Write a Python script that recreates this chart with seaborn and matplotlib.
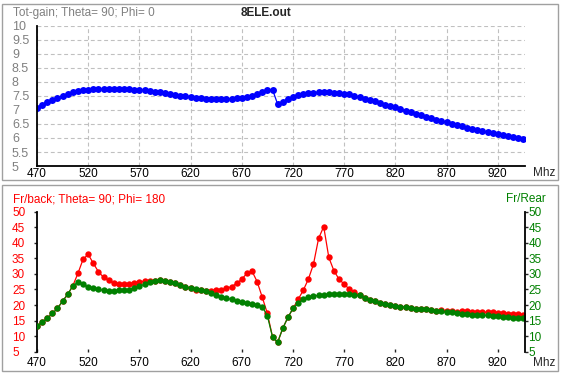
import pandas as pd
import matplotlib
matplotlib.use("Agg")
import matplotlib.pyplot as plt
from matplotlib.patches import Rectangle
import seaborn as sns

# sweep frequencies (MHz), 5 MHz steps
freq = list(range(470, 950, 5))

# Tot-gain; Theta=90; Phi=0
gain = [7.07, 7.19, 7.29, 7.37, 7.44, 7.51, 7.57, 7.63, 7.68, 7.71,
        7.73, 7.75, 7.75, 7.75, 7.75, 7.75, 7.75, 7.75, 7.75, 7.72,
        7.71, 7.71, 7.68, 7.65, 7.63, 7.60, 7.57, 7.54, 7.51, 7.50,
        7.47, 7.44, 7.43, 7.40, 7.39, 7.39, 7.39, 7.39, 7.40, 7.42,
        7.44, 7.46, 7.51, 7.57, 7.64, 7.73, 7.73, 7.21, 7.29, 7.39,
        7.46, 7.55, 7.57, 7.60, 7.62, 7.63, 7.64, 7.63, 7.62, 7.59,
        7.58, 7.56, 7.51, 7.45, 7.39, 7.36, 7.32, 7.26, 7.19, 7.14,
        7.11, 7.04, 6.96, 6.93, 6.87, 6.82, 6.76, 6.73, 6.64, 6.61,
        6.57, 6.51, 6.46, 6.44, 6.37, 6.32, 6.27, 6.24, 6.20, 6.17,
        6.13, 6.12, 6.08, 6.05, 6.00, 5.96]

# Fr/back; Theta=90; Phi=180
fr_back = [13.2, 14.5, 15.7, 17.3, 18.9, 21.3, 23.4, 26.2, 30.2, 34.7,
           36.3, 33.4, 30.7, 28.9, 27.9, 27.0, 26.8, 26.8, 26.8, 27.2,
           27.4, 27.7, 27.7, 27.8, 27.9, 27.6, 27.3, 27.0, 26.3, 25.9,
           25.4, 24.9, 24.7, 24.4, 24.5, 24.8, 24.7, 25.4, 25.9, 27.0,
           28.3, 30.2, 30.9, 27.5, 22.5, 17.3, 9.8, 8.0, 12.5, 16.0,
           18.9, 21.8, 24.7, 28.3, 33.1, 41.4, 45.2, 35.3, 31.0, 28.3,
           26.7, 25.1, 24.2, 23.1, 22.2, 21.6, 21.3, 20.6, 20.3, 20.0,
           19.7, 19.5, 19.4, 18.9, 18.6, 18.7, 18.7, 18.3, 18.2, 18.4,
           18.2, 18.0, 17.9, 18.0, 18.0, 17.7, 17.7, 17.7, 17.7, 17.8,
           17.4, 17.4, 17.2, 17.1, 17.0, 16.8]

# Fr/Rear
fr_rear = [13.2, 14.5, 15.7, 17.3, 18.9, 21.3, 23.4, 26.2, 27.3, 26.7,
           25.7, 25.4, 25.1, 24.7, 24.5, 24.4, 24.7, 24.7, 24.9, 25.6,
           26.0, 26.7, 27.3, 27.8, 27.9, 27.6, 27.3, 27.0, 26.3, 25.9,
           25.4, 25.0, 24.7, 24.4, 23.8, 23.1, 22.6, 22.2, 21.8, 21.4,
           20.9, 20.6, 20.2, 19.9, 19.5, 16.5, 9.8, 8.0, 12.5, 16.0,
           18.9, 20.6, 21.8, 22.5, 22.9, 23.1, 23.2, 23.4, 23.4, 23.4,
           23.4, 23.4, 23.1, 23.1, 22.2, 21.6, 21.3, 20.6, 20.3, 20.0,
           19.7, 19.5, 19.4, 18.9, 18.6, 18.7, 18.7, 18.3, 18.2, 18.0,
           17.7, 17.7, 17.4, 17.2, 17.0, 16.9, 16.8, 16.7, 16.7, 16.4,
           16.4, 16.2, 16.0, 15.9, 15.9, 15.8]

xticks = list(range(470, 921, 50))
gain_ticks = [5, 5.5, 6, 6.5, 7, 7.5, 8, 8.5, 9, 9.5, 10]
gain_labels = ["5", "5.5", "6", "6.5", "7", "7.5", "8", "8.5", "9", "9.5", "10"]
fb_ticks = list(range(5, 51, 5))

df = pd.DataFrame({"freq": freq, "gain": gain, "fb": fr_back, "fr": fr_rear})

sns.set_style("white")
plt.rcParams["font.family"] = ["Liberation Sans", "DejaVu Sans"]
plt.rcParams["font.size"] = 8

W, H = 563, 373
fig = plt.figure(figsize=(W / 100, H / 100), dpi=100)
fig.patch.set_facecolor("white")


def box(x, y, w, h):
    # pixel box (top-left origin) -> figure fraction rect
    return [x / W, 1 - (y + h) / H, w / W, h / H]


# panel frames
for (x0, y0, x1, y1) in [(2, 4, 558, 180), (2, 185, 558, 371)]:
    fig.add_artist(Rectangle((x0 / W, 1 - y1 / H), (x1 - x0) / W, (y1 - y0) / H,
                             transform=fig.transFigure, fill=False,
                             edgecolor="#a0a0a0", linewidth=1.0))

XMAX = 946.6

# ---- top: gain ----
ax1 = fig.add_axes(box(37, 26, 488, 140))
sns.lineplot(data=df, x="freq", y="gain", ax=ax1, color="#0000ff", marker="o",
             markersize=5.0, markeredgewidth=0, linewidth=0.9)
ax1.set_xlim(470, XMAX)
ax1.set_ylim(5, 10)
ax1.set_xticks(xticks)
ax1.set_yticks(gain_ticks)
ax1.set_yticklabels(gain_labels)
ax1.grid(True, color="#c0c0c0", linestyle=(0, (3.5, 2.5)), linewidth=0.8)
ax1.set_axisbelow(True)
for s in ["top", "right"]:
    ax1.spines[s].set_visible(False)
for s in ["left", "bottom"]:
    ax1.spines[s].set_color("black")
    ax1.spines[s].set_linewidth(1.3)
ax1.tick_params(axis="y", length=0, pad=18, labelcolor="#808080", labelsize=9)
ax1.tick_params(axis="x", length=0, pad=1.5, labelcolor="black", labelsize=8.5)
for lab in ax1.get_yticklabels():
    lab.set_ha("left")
ax1.set_xlabel("")
ax1.set_ylabel("")

# ---- bottom: front/back and front/rear ----
ax2 = fig.add_axes(box(37, 211.7, 488, 140))
sns.lineplot(data=df, x="freq", y="fb", ax=ax2, color="#ff0000", marker="o",
             markersize=4.6, markeredgewidth=0, linewidth=0.9)
ax2.set_xlim(470, XMAX)
ax2.set_ylim(5, 50)
ax2.set_xticks(xticks)
ax2.set_yticks(fb_ticks)
for s in ["top", "right", "bottom"]:
    ax2.spines[s].set_visible(False)
ax2.spines["left"].set_color("black")
ax2.spines["left"].set_linewidth(1.3)
ax2.tick_params(axis="y", left=True, length=2.5, width=1, direction="out",
                pad=15.5, labelcolor="#ff0000", labelsize=8.5)
ax2.tick_params(axis="x", bottom=True, length=2, width=1, direction="in",
                pad=4, labelcolor="black", labelsize=8.5)
for lab in ax2.get_yticklabels():
    lab.set_ha("left")
ax2.set_xlabel("")
ax2.set_ylabel("")

ax3 = ax2.twinx()
sns.lineplot(data=df, x="freq", y="fr", ax=ax3, color="#008000", marker="o",
             markersize=4.6, markeredgewidth=0, linewidth=0.9)
ax3.set_ylim(5, 50)
ax3.set_xlim(470, XMAX)
ax3.set_yticks(fb_ticks)
for s in ["top", "left", "bottom"]:
    ax3.spines[s].set_visible(False)
ax3.spines["right"].set_color("black")
ax3.spines["right"].set_linewidth(1.3)
ax3.tick_params(axis="y", right=True, length=2, width=1, direction="out",
                pad=0.5, labelcolor="#008000", labelsize=8.5)
ax3.set_ylabel("")
ax3.set_xlabel("")

# ---- texts ----
def ftext(px, py, s, **kw):
    fig.text(px / W, 1 - py / H, s, va="center", **kw)


ftext(13, 13, "Tot-gain; Theta= 90; Phi= 0", color="#808080", fontsize=8.5)
ftext(266, 13, "8ELE.out", ha="center", fontweight="bold", fontsize=8.5)
ftext(533, 173, "Mhz", fontsize=8.5)
ftext(13, 199, "Fr/back; Theta= 90; Phi= 180", color="#ff0000", fontsize=8.5)
ftext(546, 199, "Fr/Rear", ha="right", color="#008000", fontsize=8.5)
ftext(533, 363, "Mhz", fontsize=8.5)

fig.savefig("out.png", dpi=100)
